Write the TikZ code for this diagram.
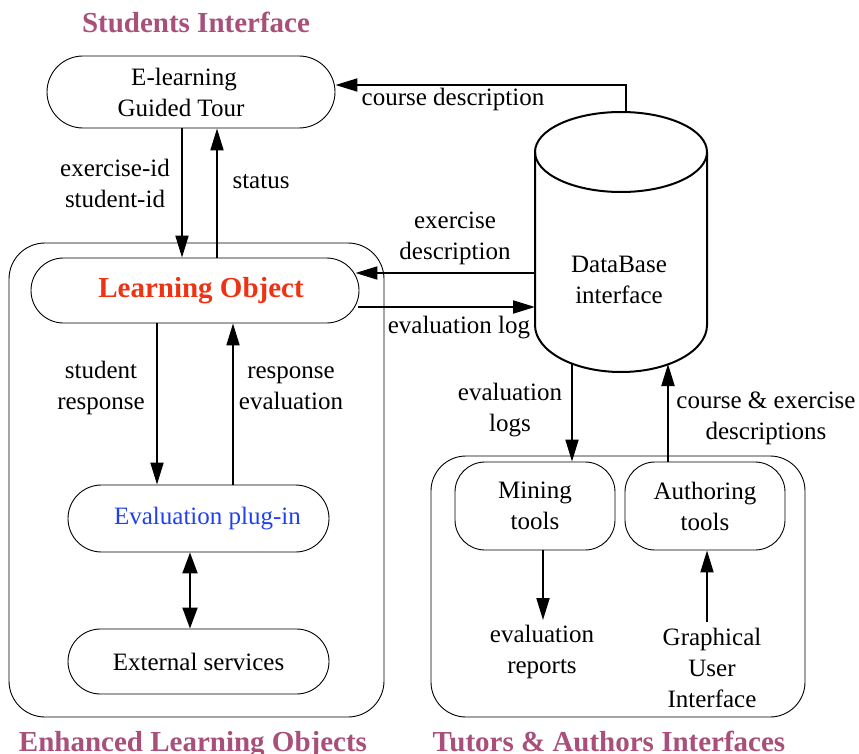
\documentclass[tikz,border=0pt]{standalone}
\usepackage{fontspec}
\setmainfont{Liberation Serif}
\usetikzlibrary{arrows.meta,calc}
\definecolor{titlec}{HTML}{A8507A}
\definecolor{lored}{HTML}{EE3314}
\definecolor{piblue}{HTML}{2040F0}
\begin{document}
\begin{tikzpicture}[x=1pt,y=-1pt,
 every node/.style={font=\fontsize{25}{31}\selectfont},
 box/.style={draw,line width=0.9pt,inner sep=0pt,align=center},
 lbl/.style={align=center,inner sep=0pt},
 arr/.style={line width=2pt,-{Triangle[length=22pt,width=13pt]}},
 darr/.style={line width=2pt,{Triangle[length=21pt,width=15pt]}-{Triangle[length=21pt,width=15pt]}},
 cyl/.style={line width=2pt},
 ttl/.style={font=\fontsize{29}{35}\selectfont\bfseries,text=titlec,inner sep=0pt},
]
\useasboundingbox (0,0) rectangle (859,754);

% titles
\node[ttl,anchor=base] (t1) at (196,33) {Students Interface};
\node[ttl,anchor=base] (t2) at (193,751) {Enhanced Learning Objects};
\node[ttl,anchor=base] (t3) at (609,751) {Tutors \& Authors Interfaces};

% containers
\node[box,minimum width=375pt,minimum height=474pt,rounded corners=36pt] (elo) at (196.5,480) {};
\node[box,minimum width=374pt,minimum height=261pt,rounded corners=35pt] (tab) at (618,586.5) {};

% boxes
\node[box,minimum width=288pt,minimum height=72pt,rounded corners=36pt] (elg) at (191,92)
  {\hspace*{-14pt}E-learning\\\hspace*{-20pt}Guided Tour};
\node[box,minimum width=328pt,minimum height=65pt,rounded corners=32.5pt,
  font=\fontsize{29}{35}\selectfont\bfseries,text=lored] (lo) at (195,290.5) {\hspace*{12pt}Learning Object};
\node[box,minimum width=261pt,minimum height=67pt,rounded corners=33.5pt,text=piblue] (pi) at (198.5,518.5)
  {\hspace*{18pt}Evaluation plug-in};
\node[box,minimum width=261pt,minimum height=65pt,rounded corners=32.5pt] (ex) at (198.5,661.5) {External services};
\node[box,minimum width=160pt,minimum height=88pt,rounded corners=30pt] (mt) at (535,506) {Mining\\tools};
\node[box,minimum width=160pt,minimum height=88pt,rounded corners=30pt] (au) at (705,506) {Authoring\\tools};

% database cylinder
\draw[cyl] (621,152) ellipse [x radius=86, y radius=40];
\draw[cyl] (535,152) -- (535,325) arc[start angle=180, end angle=0, x radius=86, y radius=47] -- (707,152);
\node[lbl] (db) at (619,280) {DataBase\\interface};

% helper coordinates
\coordinate (dbt) at (626,112);
\coordinate (cdk) at (626,85);
\coordinate (dbl1) at (535,273);
\coordinate (dbl2) at (535,307);
\coordinate (dbb1) at (572,364);
\coordinate (dbb2) at (668,364);
\coordinate (a1) at (182,0);
\coordinate (a2) at (217,0);
\coordinate (a3) at (157,0);
\coordinate (a4) at (233,0);
\coordinate (a5) at (190,0);
\coordinate (a6) at (543,0);
\coordinate (erT) at (543,620);
\coordinate (guiB) at (707,622);
\coordinate (loE1) at ($(lo.east |- dbl1)+(-4,0)$);
\coordinate (loE2) at ($(lo.east |- dbl2)+(-1,0)$);

% connectors
\draw[arr] (dbt) -- (cdk) -- (elg.east |- cdk);
\draw[arr] (elg.south -| a1) -- (lo.north -| a1);
\draw[arr] (lo.north -| a2) -- (elg.south -| a2);
\draw[arr] (dbl1) -- (loE1);
\draw[arr] (loE2) -- (dbl2);
\draw[arr] (lo.south -| a3) -- (pi.north -| a3);
\draw[arr] (pi.north -| a4) -- (lo.south -| a4);
\draw[darr] (pi.south -| a5) -- (ex.north -| a5);
\draw[arr] (dbb1) -- (mt.north -| dbb1);
\draw[arr] (au.north -| dbb2) -- (dbb2);
\draw[arr] (mt.south -| a6) -- (erT);
\draw[arr] (guiB) -- (au.south -| guiB);

% labels
\node[lbl] (l1) at (453,99) {course description};
\node[lbl] (l2) at (115,183) {exercise-id\\student-id};
\node[lbl] (l3) at (261,182) {status};
\node[lbl] (l4) at (455,238) {exercise\\description};
\node[lbl] (l5) at (459,328) {evaluation log};
\node[lbl] (l6) at (101,388) {student\\response};
\node[lbl] (l7) at (291,388) {response\\evaluation};
\node[lbl] (l8) at (510,410) {evaluation\\logs};
\node[lbl] (l9) at (766,418) {course \& exercise\\descriptions};
\node[lbl] (l10) at (542,652) {evaluation\\reports};
\node[lbl] (l11) at (712,668) {Graphical\\User\\Interface};
\end{tikzpicture}
\end{document}
